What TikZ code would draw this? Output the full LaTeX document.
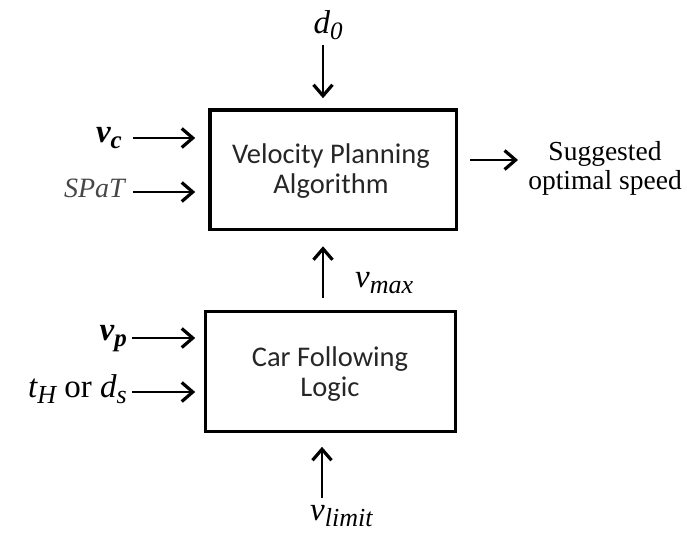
\documentclass[tikz,border=0pt]{standalone}
\usepackage{fontspec}
\setmainfont{Liberation Serif}
\newfontfamily\boxfont{Carlito}
\usetikzlibrary{arrows.meta}
% italic subscript, lowered below the baseline
\newcommand\lowsub[2][25]{\raisebox{-6pt}{\fontsize{#1}{#1}\selectfont\itshape #2}}
\begin{document}
\begin{tikzpicture}[x=1pt,y=-1pt,
  blk/.style={draw, line width=3.6pt, inner sep=0pt},
  blktext/.style={font=\boxfont\fontsize{28.5}{30}\selectfont, text=black!85, align=center, inner sep=0pt},
  lbl/.style={inner sep=0pt, font=\fontsize{33}{34}\selectfont\itshape},
  bl/.style={lbl, font=\fontsize{33}{34}\selectfont\bfseries\itshape},
  arr/.style={line width=2.8pt, -{Straight Barb[length=11pt,width=19pt,line width=3.2pt]}}]
\useasboundingbox (0,0) rectangle (687,536);

% blocks
\node[blk, minimum width=246.5pt, minimum height=119.5pt] (vpa) at (333.25,169.75) {};
\node[blk, minimum width=250pt, minimum height=120pt] (cfl) at (330.5,371.5) {};
\node[blktext] (vpaT) at (331,171) {Velocity Planning\\Algorithm};
\node[blktext] (cflT) at (330,374) {Car Following\\Logic};

% input and output labels
\node[lbl, anchor=base] (d0) at (328,33) {d\lowsub{0}};
\node[bl, anchor=base east] (vc) at (122,142) {v\lowsub{\bfseries c}};
\node[lbl, anchor=base east, text=black!72, font=\fontsize{28}{30}\selectfont\itshape] (spat) at (125,197) {SPaT};
\node[bl, anchor=base east] (vp) at (127,340) {v\lowsub{\bfseries p}};
\node[lbl, anchor=base east] (th) at (127,397) {t\lowsub[26]{H} {\upshape or} d\lowsub[26]{s}};
\node[lbl, anchor=base west] (vmax) at (355,287) {v\lowsub[26]{max}};
\node[lbl, anchor=base west] (vlim) at (310,520) {v\lowsub[26]{limit}};
\node[lbl, align=center, anchor=base, font=\fontsize{27.5}{29}\selectfont] (out) at (605,189) {Suggested\\optimal speed};

% arrow tails
\coordinate (d0t) at (323,45);
\coordinate (vct) at (133,138);
\coordinate (spt) at (133,192);
\coordinate (vpt) at (132,338);
\coordinate (tht) at (132,392);
\coordinate (vmt) at (323,298);
\coordinate (vlt) at (322,498);
\coordinate (outh) at (518,160);

% connectors
\draw[arr, shorten >=10pt] (d0t) -- (d0t |- vpa.north);
\draw[arr, shorten >=13pt] (vct) -- (vct -| vpa.west);
\draw[arr, shorten >=13pt] (spt) -- (spt -| vpa.west);
\draw[arr, shorten >=8.5pt] (vpt) -- (vpt -| cfl.west);
\draw[arr, shorten >=8.5pt] (tht) -- (tht -| cfl.west);
\draw[arr, shorten >=15pt] (vmt) -- (vmt |- vpa.south);
\draw[arr, shorten >=13.5pt] (vlt) -- (vlt |- cfl.south);
\draw[arr, shorten <=12pt] (outh -| vpa.east) -- (outh);
\end{tikzpicture}
\end{document}
